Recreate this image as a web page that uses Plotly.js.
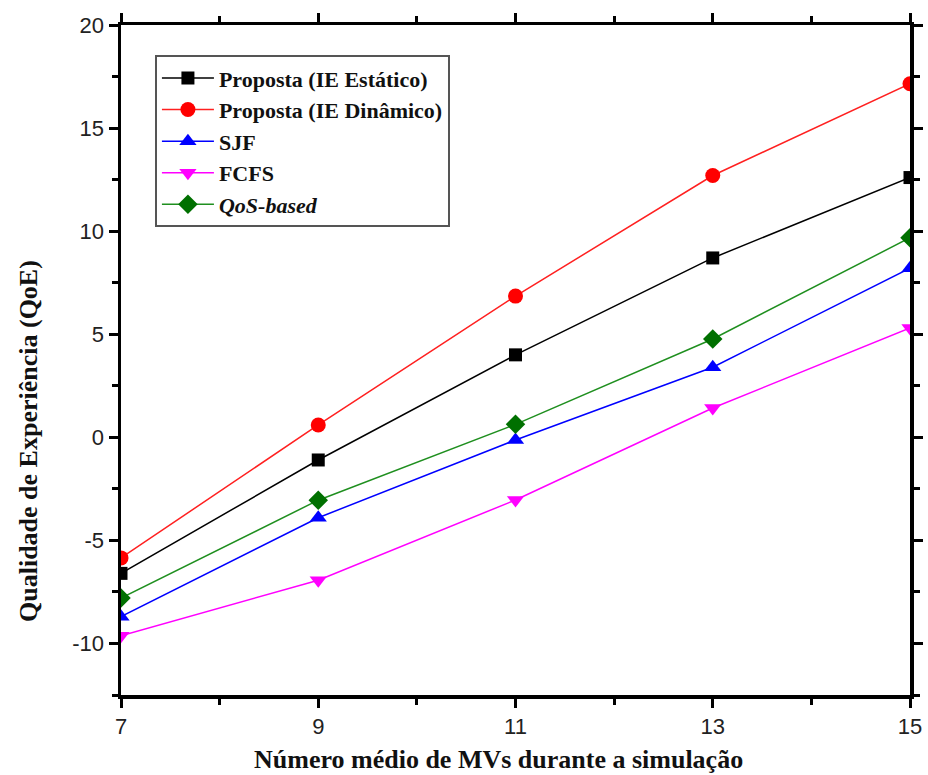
<!DOCTYPE html>
<html>
<head>
<meta charset="utf-8">
<script src="https://cdn.plot.ly/plotly-3.0.1.min.js"></script>
<style>html,body{margin:0;padding:0;background:#fff;}#chart{width:928px;height:775px;}</style>
</head>
<body>
<div id="chart"></div>
<script>
const numMVs = [7, 9, 11, 13, 15];
const seriesNames = ["Proposta (IE Estático)", "Proposta (IE Dinâmico)", "SJF", "FCFS", "<i>QoS-based</i>"];
const ieEstatico = [-6.6, -1.1, 4.0, 8.7, 12.6];
const ieDinamico = [-5.85, 0.6, 6.85, 12.7, 17.15];
const sjf = [-8.7, -3.9, -0.13, 3.4, 8.2];
const fcfs = [-9.63, -6.93, -3.04, 1.42, 5.3];
const qosBased = [-7.8, -3.05, 0.63, 4.77, 9.68];
const yTickVals = [-10, -5, 0, 5, 10, 15, 20];
const yTickText = ["-10", "-5", "0", "5", "10", "15", "20"];
const xTickVals = [7, 9, 11, 13, 15];
const xTitle = "Número médio de MVs durante a simulação";
const yTitle = "Qualidade de Experiência (QoE)";

const styles = [
  {line: '#000000', marker: '#000000', symbol: 'square', size: 13},
  {line: '#ff2020', marker: '#ff0000', symbol: 'circle', size: 15},
  {line: '#0000ff', marker: '#0000ff', symbol: 'triangle-up', size: 15},
  {line: '#ff00ff', marker: '#ff00ff', symbol: 'triangle-down', size: 15},
  {line: '#1f8f1f', marker: '#007000', symbol: 'diamond', size: 15}
];
const allSeries = [ieEstatico, ieDinamico, sjf, fcfs, qosBased];

const traces = allSeries.map((ys, i) => ({
  x: numMVs,
  y: ys,
  name: seriesNames[i],
  type: 'scatter',
  mode: 'lines+markers',
  legendgroup: 'g' + i,
  line: {color: styles[i].line, width: 1.5},
  marker: {color: styles[i].marker, symbol: styles[i].symbol, size: styles[i].size},
  cliponaxis: true
}));

const axisCommon = {
  showline: true,
  linecolor: '#000',
  linewidth: 3.5,
  mirror: 'allticks',
  ticks: 'outside',
  ticklen: 9,
  tickwidth: 3,
  tickcolor: '#000',
  showgrid: false,
  zeroline: false,
  tickfont: {family: 'Liberation Sans, Arial, sans-serif', size: 22, color: '#222'}
};

const titleFont = {family: 'Liberation Serif, Times New Roman, serif', size: 26, color: '#111', weight: 'bold'};

const layout = {
  width: 928,
  height: 775,
  paper_bgcolor: '#fff',
  plot_bgcolor: '#fff',
  margin: {l: 121, r: 18, t: 25, b: 80},
  showlegend: true,
  xaxis: Object.assign({}, axisCommon, {
    range: [7, 15],
    tickvals: xTickVals,
    minor: {dtick: 1, tick0: 7, ticks: 'outside', ticklen: 6, tickwidth: 3, tickcolor: '#000'}
  }),
  yaxis: Object.assign({}, axisCommon, {
    range: [-12.5, 20],
    tickvals: yTickVals,
    ticktext: yTickText,
    minor: {dtick: 2.5, tick0: 0, ticks: 'outside', ticklen: 6, tickwidth: 3, tickcolor: '#000'}
  }),
  annotations: [
    {text: xTitle, xref: 'paper', yref: 'paper', x: 0.479, y: -0.097,
      xanchor: 'center', yanchor: 'middle', showarrow: false, font: titleFont},
    {text: yTitle, xref: 'paper', yref: 'paper', x: -0.118, y: 0.379, textangle: -90,
      xanchor: 'center', yanchor: 'middle', showarrow: false, font: titleFont}
  ],
  legend: {
    x: 0.043, y: 0.955, xanchor: 'left', yanchor: 'top',
    bgcolor: '#fff',
    bordercolor: '#555',
    borderwidth: 2,
    tracegroupgap: 0,
    itemwidth: 52,
    font: {family: 'Liberation Serif, Times New Roman, serif', size: 22, color: '#111', weight: 'bold'}
  }
};

Plotly.newPlot('chart', traces, layout, {displayModeBar: false, staticPlot: true});
</script>
</body>
</html>
